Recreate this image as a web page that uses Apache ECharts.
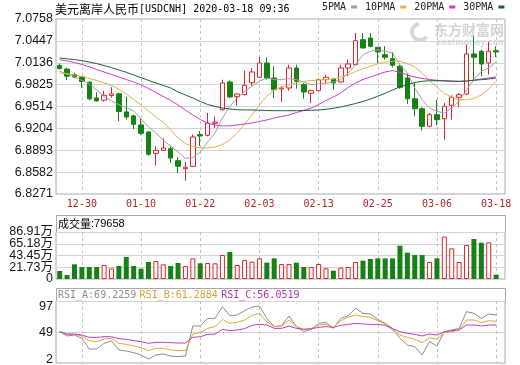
<!DOCTYPE html>
<html><head><meta charset="utf-8">
<script src="https://cdn.jsdelivr.net/npm/echarts@6.0.0/dist/echarts.min.js"></script>
<style>html,body{margin:0;padding:0;background:#fff}#c{width:520px;height:365px}</style>
</head><body><div id="c"></div>
<script>
const dates = ['12-24','12-26','12-27','12-30','12-31','01-02','01-03','01-06','01-07','01-08',
'01-09','01-10','01-13','01-14','01-15','01-16','01-17','01-20','01-21','01-22',
'01-23','01-24','01-27','01-28','01-29','01-30','01-31','02-03','02-04','02-05',
'02-06','02-07','02-10','02-11','02-12','02-13','02-14','02-17','02-18','02-19',
'02-20','02-21','02-24','02-25','02-26','02-27','02-28','03-02','03-03','03-04',
'03-05','03-06','03-09','03-10','03-11','03-12','03-13','03-16','03-17','03-18'];
const tickLabels = ['12-30','01-10','01-22','02-03','02-13','02-25','03-06','03-18'];
// [open, close, low, high]
const ohlc = [
[7.0098,7.0055,7.0041,7.0126],[7.0046,6.9946,6.9889,7.0065],[6.9970,6.9932,6.9922,6.9994],[6.9936,6.9870,6.9780,6.9946],
[6.9860,6.9623,6.9600,6.9870],[6.9637,6.9594,6.9585,6.9718],[6.9604,6.9675,6.9585,6.9737],[6.9670,6.9694,6.9642,6.9789],
[6.9694,6.9442,6.9305,6.9709],[6.9438,6.9366,6.9329,6.9652],[6.9381,6.9262,6.9191,6.9400],[6.9252,6.9134,6.9110,6.9343],
[6.9153,6.8835,6.8816,6.9162],[6.8849,6.8891,6.8678,6.8948],[6.8891,6.8925,6.8882,6.9062],[6.8915,6.8783,6.8712,6.8949],
[6.8744,6.8665,6.8570,6.8793],[6.8631,6.8651,6.8460,6.8726],[6.8665,6.9081,6.8655,6.9114],[6.9114,6.9095,6.8953,6.9166],
[6.9105,6.9280,6.9091,6.9422],[6.9276,6.9294,6.9209,6.9370],[6.9469,6.9849,6.9455,6.9895],[6.9863,6.9650,6.9635,6.9887],
[6.9654,6.9692,6.9532,6.9699],[6.9682,6.9816,6.9674,7.0023],[6.9853,7.0005,6.9810,7.0062],[6.9930,7.0133,6.9920,7.0218],
[7.0133,6.9920,6.9895,7.0214],[6.9920,6.9753,6.9635,7.0086],[6.9763,6.9777,6.9579,6.9802],[6.9777,7.0062,6.9739,7.0109],
[7.0062,6.9873,6.9768,7.0109],[6.9824,6.9721,6.9625,6.9849],[6.9702,6.9739,6.9564,6.9753],[6.9739,6.9895,6.9731,6.9910],
[6.9895,6.9930,6.9834,6.9967],[6.9905,6.9849,6.9753,6.9910],[6.9863,7.0062,6.9849,7.0109],[7.0062,7.0119,6.9944,7.0180],
[7.0109,7.0450,7.0100,7.0559],[7.0464,7.0346,7.0336,7.0559],[7.0488,7.0370,7.0356,7.0559],[7.0356,7.0290,7.0133,7.0360],
[7.0251,7.0214,7.0180,7.0370],[7.0194,7.0100,7.0072,7.0289],[7.0086,6.9787,6.9768,7.0109],[6.9920,6.9625,6.9550,6.9990],
[6.9625,6.9483,6.9375,6.9849],[6.9483,6.9233,6.9170,6.9503],[6.9233,6.9398,6.9219,6.9422],[6.9398,6.9327,6.9247,6.9611],
[6.9341,6.9517,6.9043,6.9564],[6.9532,6.9645,6.9327,6.9674],[6.9645,6.9682,6.9503,6.9706],[6.9692,7.0261,6.9682,7.0393],
[7.0261,7.0214,6.9895,7.0512],[7.0299,7.0119,6.9944,7.0322],[7.0133,7.0299,6.9967,7.0431],[7.0307,7.0289,7.0214,7.0370]
];
const ma5 = [7.0015,6.9977,6.9937,6.9884,6.9834,6.9749,6.9657,6.9593,6.9540,6.9500,
6.9451,6.9337,6.9223,6.9138,6.9039,6.8953,6.8868,6.8776,6.8790,6.8868,
6.9010,6.9138,6.9351,6.9518,6.9635,6.9731,6.9802,6.9873,6.9920,6.9896,
6.9896,6.9910,6.9896,6.9863,6.9824,6.9834,6.9849,6.9863,6.9896,6.9991,
7.0109,7.0251,7.0299,7.0322,7.0299,7.0275,7.0109,6.9991,6.9777,6.9611,
6.9493,6.9446,6.9422,6.9493,6.9589,6.9753,6.9896,7.0015,7.0062,7.0147];
const ma10 = [6.9991,6.9979,6.9967,6.9941,6.9913,6.9884,6.9849,6.9813,6.9763,6.9692,
6.9614,6.9536,6.9451,6.9365,6.9287,6.9181,6.9067,6.8989,6.8949,6.8925,
6.8925,6.8939,6.8975,6.9039,6.9138,6.9266,6.9398,6.9536,6.9660,6.9753,
6.9792,6.9824,6.9849,6.9873,6.9883,6.9891,6.9898,6.9905,6.9934,6.9967,
7.0012,7.0052,7.0086,7.0119,7.0143,7.0157,7.0157,7.0126,7.0076,6.9991,
6.9881,6.9785,6.9702,6.9643,6.9607,6.9614,6.9628,6.9678,6.9763,6.9873];
const ma20 = [7.0180,7.0161,7.0140,7.0112,7.0079,7.0040,7.0005,6.9969,6.9934,6.9898,
6.9863,6.9820,6.9770,6.9714,6.9657,6.9600,6.9536,6.9465,6.9394,6.9330,
6.9280,6.9252,6.9238,6.9240,6.9252,6.9266,6.9280,6.9302,6.9323,6.9351,
6.9373,6.9394,6.9429,6.9458,6.9493,6.9543,6.9600,6.9650,6.9707,6.9785,
6.9849,6.9898,6.9934,6.9969,7.0005,7.0026,6.9998,6.9962,6.9934,6.9913,
6.9898,6.9887,6.9877,6.9870,6.9870,6.9877,6.9891,6.9905,6.9920,6.9934];
const ma30 = [7.0204,7.0192,7.0181,7.0166,7.0147,7.0124,7.0097,7.0067,7.0033,7.0001,
6.9962,6.9924,6.9886,6.9849,6.9813,6.9778,6.9721,6.9678,6.9635,6.9586,
6.9543,6.9515,6.9493,6.9479,6.9469,6.9465,6.9465,6.9461,6.9458,6.9455,
6.9455,6.9455,6.9455,6.9458,6.9461,6.9465,6.9475,6.9489,6.9508,6.9532,
6.9557,6.9586,6.9621,6.9660,6.9702,6.9749,6.9792,6.9827,6.9856,6.9873,
6.9881,6.9881,6.9881,6.9877,6.9873,6.9877,6.9887,6.9896,6.9905,6.9920];
// volume in 万
const volume = [14.8,7.4,27.1,22.2,22.2,22.2,25.9,19.7,24.0,40.7,
24.0,19.1,31.4,33.3,27.1,24.0,29.6,24.0,38.2,29.0,
29.6,29.0,44.4,49.9,25.9,35.1,32.0,38.2,30.2,38.2,
27.7,27.7,30.2,22.2,22.2,27.7,19.8,15.4,21.0,22.2,
31.4,33.9,37.0,38.2,38.2,38.2,61.6,48.7,44.4,44.4,
31.4,38.2,78.3,56.7,31.4,62.9,74.0,67.1,67.8,7.97];
const rsiA = [50.0,43.4,44.9,39.8,23.4,23.4,32.1,35.7,21.9,20.4,
17.8,14.3,8.1,14.3,15.8,12.7,11.7,12.7,58.7,58.7,
70.4,70.4,88.3,74.5,75.5,82.2,87.8,89.3,70.4,57.7,
59.2,74.0,57.7,50.0,53.6,62.8,64.3,55.1,70.4,74.5,
85.8,78.1,77.1,68.9,62.8,55.1,39.8,29.6,27.0,14.3,
34.7,28.0,50.0,52.6,55.1,80.7,78.1,70.4,77.1,75.5];
const rsiB = [50.0,45.9,45.9,43.4,36.2,34.7,38.8,39.8,32.1,30.6,
28.0,25.5,20.9,24.5,24.5,21.9,20.9,20.9,46.4,48.5,
55.1,57.7,68.9,62.8,64.3,67.9,75.0,78.1,65.3,57.7,
58.7,67.9,57.7,53.6,54.6,60.2,61.2,56.6,66.9,72.0,
75.5,73.0,72.0,66.9,61.8,52.6,44.9,41.3,38.3,33.2,
40.8,38.3,48.5,50.0,52.6,67.9,67.9,63.8,66.9,65.8];
const rsiC = [50.0,46.4,46.4,44.9,41.3,41.3,42.3,42.3,39.3,38.3,
36.2,34.7,32.1,33.7,33.7,33.2,32.6,32.6,41.3,42.3,
45.9,46.4,53.6,51.5,52.6,54.6,59.7,61.2,60.2,55.1,
55.1,58.7,55.1,53.6,54.6,56.6,57.7,56.6,59.7,61.2,
62.8,61.8,61.2,61.2,59.7,54.6,50.0,47.4,45.9,43.4,
46.4,44.9,50.0,51.5,52.6,60.2,60.2,58.7,60.2,60.2];
const priceTicks = [6.8271,6.8582,6.8893,6.9204,6.9514,6.9825,7.0136,7.0447,7.0758];
const volTicks = [0,21.73,43.45,65.18,86.91];
const rsiTicks = [2,49,97];
const titleCn = '美元离岸人民币';
const titleEn = '[USDCNH] 2020-03-18 09:36';
const volHeader = ['成交量', ':79658'];
const rsiHeader = ['RSI_A:69.2259', 'RSI_B:61.2884', 'RSI_C:56.0519'];

const chart = echarts.init(document.getElementById('c'));
const tickIdx = tickLabels.map(t => dates.indexOf(t));
const RED = '#e0242b', GREEN = '#168216';
const C5 = '#a0a0a0', C10 = '#e2b24a', C20 = '#cc3ccc', C30 = '#1f5e3c';
const MONO = 'DejaVu Sans Mono', SANS = "'Liberation Sans', 'Noto Sans CJK SC'";
const isUp = i => ohlc[i][1] >= ohlc[i][0];

const grids = [
  {left:56, top:19, width:449, height:175},
  {left:56, top:232, width:449, height:47},
  {left:56, top:301, width:449, height:62}
].map(g => Object.assign(g, {show:true, borderColor:'#a8a8a8', borderWidth:1, backgroundColor:'transparent', containLabel:false, outerBoundsMode:'none'}));

function xAx(gi, showLabel) {
  return {
    type:'value', gridIndex:gi, min:-0.5, max:60.2,
    axisLine:{show:false},
    axisTick:{show:false, customValues:tickIdx},
    axisLabel:{show:showLabel, customValues:tickIdx, formatter:v => dates[Math.round(v)],
      color:'#b3262b', fontFamily:MONO, fontSize:10, margin:5, showMinLabel:true, showMaxLabel:true},
    splitLine:{show:true, lineStyle:{color:'#c4c4c4', width:1, type:[3,3]}}
  };
}
function yAx(gi, ticks, labelVals, fmt, extra, split) {
  return {
    type:'value', gridIndex:gi, position:'left', offset:0, min:ticks[0], max:ticks[ticks.length-1],
    axisLine:{show:false},
    axisTick:{show:false, customValues:ticks},
    axisLabel:Object.assign({customValues:labelVals, formatter:fmt, color:'#151515', fontFamily:SANS, fontSize:12.5, margin:3,
      showMinLabel:true, showMaxLabel:true}, extra || {}),
    splitLine:{show:split !== false, lineStyle:{color:'#d4d4d4', width:1}}
  };
}
const volFmt = v => v === 0 ? '0' : v.toFixed(2) + '万';
const line = (name, arr, color, xi, yi) => ({
  name, type:'line', xAxisIndex:xi, yAxisIndex:yi, data:arr.map((v,i)=>[i,v]),
  symbol:'none', showSymbol:false, silent:true,
  lineStyle:{width:1, color}, itemStyle:{color}
});

chart.setOption({
  animation:false,
  grid:grids,
  xAxis:[xAx(0,true), xAx(1,false), xAx(2,false)],
  yAxis:[
    yAx(0, priceTicks, priceTicks, v => v.toFixed(4)),
    yAx(1, volTicks, volTicks.filter((v,i)=>i%2===0), volFmt, {padding:[0,0,5,0]}),
    yAx(2, rsiTicks, rsiTicks, v => v === rsiTicks[0] ? '{lo|' + v + '}' : v === rsiTicks[2] ? '{hi|' + v + '}' : String(v),
      {rich:{lo:{fontFamily:SANS, fontSize:12.5, color:'#151515', padding:[0,0,6,0]},
             hi:{fontFamily:SANS, fontSize:12.5, color:'#151515', padding:[12,0,0,0]}}}),
    yAx(1, volTicks, volTicks.filter((v,i)=>i%2===1), volFmt, {padding:[0,0,5,0]}, false)
  ],
  legend:{
    left:322, top:2, width:198, padding:0, align:'right', icon:'rect', itemWidth:6, itemHeight:3, itemGap:8,
    selectedMode:false, data:['5PMA','10PMA','20PMA','30PMA'],
    textStyle:{fontFamily:MONO, fontSize:10, color:'#222'}
  },
  series:[
    {type:'candlestick', xAxisIndex:0, yAxisIndex:0, barWidth:5, silent:true,
     data:ohlc.map((d,i)=>[i, d[0], d[1], d[2], d[3]]),
     itemStyle:{color:'#ffffff', color0:GREEN, borderColor:RED, borderColor0:GREEN, borderWidth:1}},
    line('5PMA', ma5, C5, 0, 0),
    line('10PMA', ma10, C10, 0, 0),
    line('20PMA', ma20, C20, 0, 0),
    line('30PMA', ma30, C30, 0, 0),
    {type:'bar', xAxisIndex:1, yAxisIndex:1, barWidth:5, silent:true,
     data:volume.map((v,i)=>({value:[i,v], itemStyle: isUp(i)
       ? {color:'#ffffff', borderColor:RED, borderWidth:1}
       : {color:GREEN, borderColor:GREEN, borderWidth:0}}))},
    line('RSI_A', rsiA, '#8c8c8c', 2, 2),
    line('RSI_B', rsiB, '#e0a838', 2, 2),
    line('RSI_C', rsiC, '#c03cc0', 2, 2)
  ],
  graphic:[
    {type:'text', x:55, y:9, style:{text:'{a|'+titleCn+'}{b|'+titleEn+'}', verticalAlign:'middle',
      rich:{a:{fontFamily:'Noto Sans CJK SC', fontSize:12, fill:'#000'}, b:{fontFamily:MONO, fontSize:10, fill:'#000'}}}},
    {type:'rect', shape:{x:56.5, y:215.5, width:449, height:17}, style:{fill:'#fff', stroke:'#a8a8a8', lineWidth:1}},
    {type:'text', x:58, y:224, style:{text:'{a|'+volHeader[0]+'}{b|'+volHeader[1]+'}', verticalAlign:'middle',
      rich:{a:{fontFamily:'Noto Sans CJK SC', fontSize:11, fill:'#000'}, b:{fontFamily:'Liberation Sans', fontSize:11, fill:'#000'}}}},
    {type:'rect', shape:{x:56.5, y:288.5, width:449, height:13}, style:{fill:'#fff', stroke:'#a8a8a8', lineWidth:1}},
    {type:'text', x:58, y:295, style:{text:'{a|'+rsiHeader[0]+'} {b|'+rsiHeader[1]+'} {c|'+rsiHeader[2]+'}', verticalAlign:'middle',
      rich:{a:{fontFamily:MONO, fontSize:10, fill:'#8c8c8c'}, b:{fontFamily:MONO, fontSize:10, fill:'#d9a030'}, c:{fontFamily:MONO, fontSize:10, fill:'#b830b8'}}}},
    {type:'arc', shape:{cx:420, cy:32, r:8, startAngle:0.6, endAngle:4.6}, style:{stroke:'#d8d8d8', lineWidth:4, fill:null}},
    {type:'text', x:434, y:30, style:{text:'东方财富网', fontFamily:'Noto Sans CJK SC', fontSize:14, fontWeight:'bold', fill:'#d4d4d4', verticalAlign:'middle'}},
    {type:'text', x:436, y:43, style:{text:'eastmoney.com', fontFamily:'DejaVu Sans', fontSize:8, fontWeight:'bold', fill:'#dadada', verticalAlign:'middle'}}
  ]
});
</script>
</body></html>
